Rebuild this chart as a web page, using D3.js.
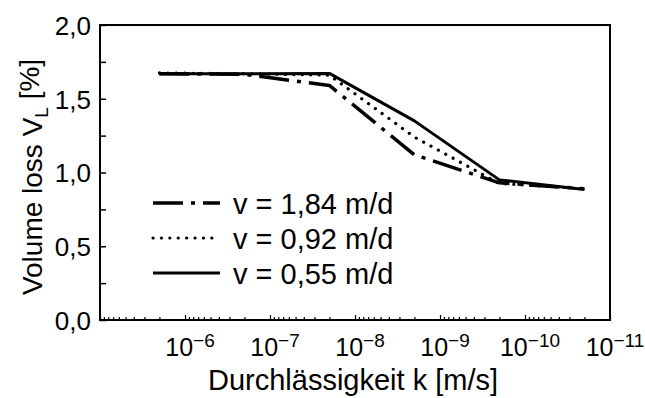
<!DOCTYPE html>
<html>
<head>
<meta charset="utf-8">
<script src="https://cdn.jsdelivr.net/npm/d3@7"></script>
<style>
  body { margin: 0; background: #fff; }
  svg text { font-family: "Liberation Sans", Arial, sans-serif; fill: #000; }
</style>
</head>
<body>
<svg id="chart"></svg>
<script>
// permeability k [m/s] at the measured points
var kValues = [2e-6, 2e-7, 2e-8, 2e-9, 2e-10, 2e-11];
// volume loss V_L [%] for each seepage velocity
var v184 = [1.67, 1.665, 1.59, 1.12, 0.93, 0.89];
var v092 = [1.675, 1.67, 1.66, 1.24, 0.925, 0.89];
var v055 = [1.67, 1.67, 1.672, 1.35, 0.95, 0.885];
var seriesNames = ["v = 1,84 m/d", "v = 0,92 m/d", "v = 0,55 m/d"];
var xLabelExps = [-6, -7, -8, -9, -10, -11];
var yTicks = [0, 0.25, 0.5, 0.75, 1, 1.25, 1.5, 1.75, 2];

var screen = {width: 645, height: 398};
var margins = {left: 100, right: 35, top: 25, bottom: 78};
var graph = {
    width: screen.width - margins.left - margins.right,
    height: screen.height - margins.top - margins.bottom
};

var svg = d3.select("#chart")
    .attr("width", screen.width)
    .attr("height", screen.height);

var xScale = d3.scaleLog()
    .domain([1e-5, 1e-11])
    .range([0, graph.width]);

var yScale = d3.scaleLinear()
    .domain([0, 2])
    .range([graph.height, 0]);

var plot = svg.append("g")
    .attr("transform", "translate(" + margins.left + "," + margins.top + ")");

// frame
plot.append("rect")
    .attr("x", 0).attr("y", 0)
    .attr("width", graph.width).attr("height", graph.height)
    .attr("fill", "none").attr("stroke", "#000").attr("stroke-width", 2);

// y axis, ticks inward
var yAxis = d3.axisLeft(yScale)
    .tickValues(yTicks)
    .tickSize(-6)
    .tickPadding(9)
    .tickFormat(function (d) { return (d * 2) % 1 === 0 ? d.toFixed(1).replace(".", ",") : ""; });

var gy = plot.append("g").call(yAxis);
gy.select(".domain").remove();
gy.selectAll(".tick line").attr("stroke-width", 1.5);
gy.selectAll("text").style("font-size", "26px").attr("dy", "0.36em");

// x axis: minor ticks (log) inward
var minorVals = [];
for (var e = -11; e < -5; e++) {
    for (var m = 1; m < 10; m++) minorVals.push(m * Math.pow(10, e));
}
minorVals.push(1e-5);

var xAxis = d3.axisBottom(xScale)
    .tickValues(minorVals)
    .tickSize(-3)
    .tickFormat("");
var gx = plot.append("g")
    .attr("transform", "translate(0," + graph.height + ")")
    .call(xAxis);
gx.select(".domain").remove();
gx.selectAll(".tick line")
    .attr("stroke-width", 1.2)
    .attr("y2", function (d) {
        var l = Math.log10(d);
        return Math.abs(l - Math.round(l)) < 1e-9 ? -5 : -3;
    });

// x tick labels 10^-n
var xl = plot.append("g");
xLabelExps.forEach(function (p) {
    var t = xl.append("text")
        .attr("x", xScale(Math.pow(10, p)) + 5)
        .attr("y", 356 - margins.top)
        .attr("text-anchor", "middle")
        .style("font-size", "25px");
    t.append("tspan").text("10");
    t.append("tspan").attr("dy", "-0.45em").style("font-size", "19px")
        .text("\u2212" + Math.abs(p));
});

// lines
var lineGen = function (vals) {
    return d3.line()
        .x(function (d, i) { return xScale(kValues[i]); })
        .y(function (d) { return yScale(d); })(vals);
};

var styles = [
    {data: v184, dash: "30,8,4,8", cap: "butt", width: 3.5},
    {data: v092, dash: "0.1,8.3", cap: "round", width: 3.2},
    {data: v055, dash: null, cap: "butt", width: 3}
];

styles.forEach(function (s) {
    plot.append("path")
        .attr("d", lineGen(s.data))
        .attr("fill", "none")
        .attr("stroke", "#000")
        .attr("stroke-width", s.width)
        .attr("stroke-linecap", s.cap)
        .attr("stroke-linejoin", "round")
        .attr("stroke-dasharray", s.dash);
});

// legend
var legend = svg.append("g").attr("transform", "translate(153,203)");
styles.forEach(function (s, i) {
    var row = legend.append("g").attr("transform", "translate(0," + (i * 35) + ")");
    row.append("line")
        .attr("x1", 0).attr("x2", 67)
        .attr("stroke", "#000")
        .attr("stroke-width", s.width)
        .attr("stroke-linecap", s.cap)
        .attr("stroke-dasharray", s.dash);
    row.append("text")
        .attr("x", 80).attr("y", 11)
        .style("font-size", "29px")
        .text(seriesNames[i]);
});

// axis titles
var labels = svg.append("g");
labels.append("text")
    .attr("x", 353)
    .attr("y", 390)
    .attr("text-anchor", "middle")
    .style("font-size", "29px")
    .text("Durchlässigkeit k [m/s]");

var yt = labels.append("text")
    .attr("transform", "translate(42,177) rotate(-90)")
    .attr("text-anchor", "middle")
    .style("font-size", "28px");
yt.append("tspan").text("Volume loss V");
yt.append("tspan").attr("dy", "0.3em").style("font-size", "19px").text("L");
yt.append("tspan").attr("dy", "-0.3em").text(" [%]");
</script>
</body>
</html>
